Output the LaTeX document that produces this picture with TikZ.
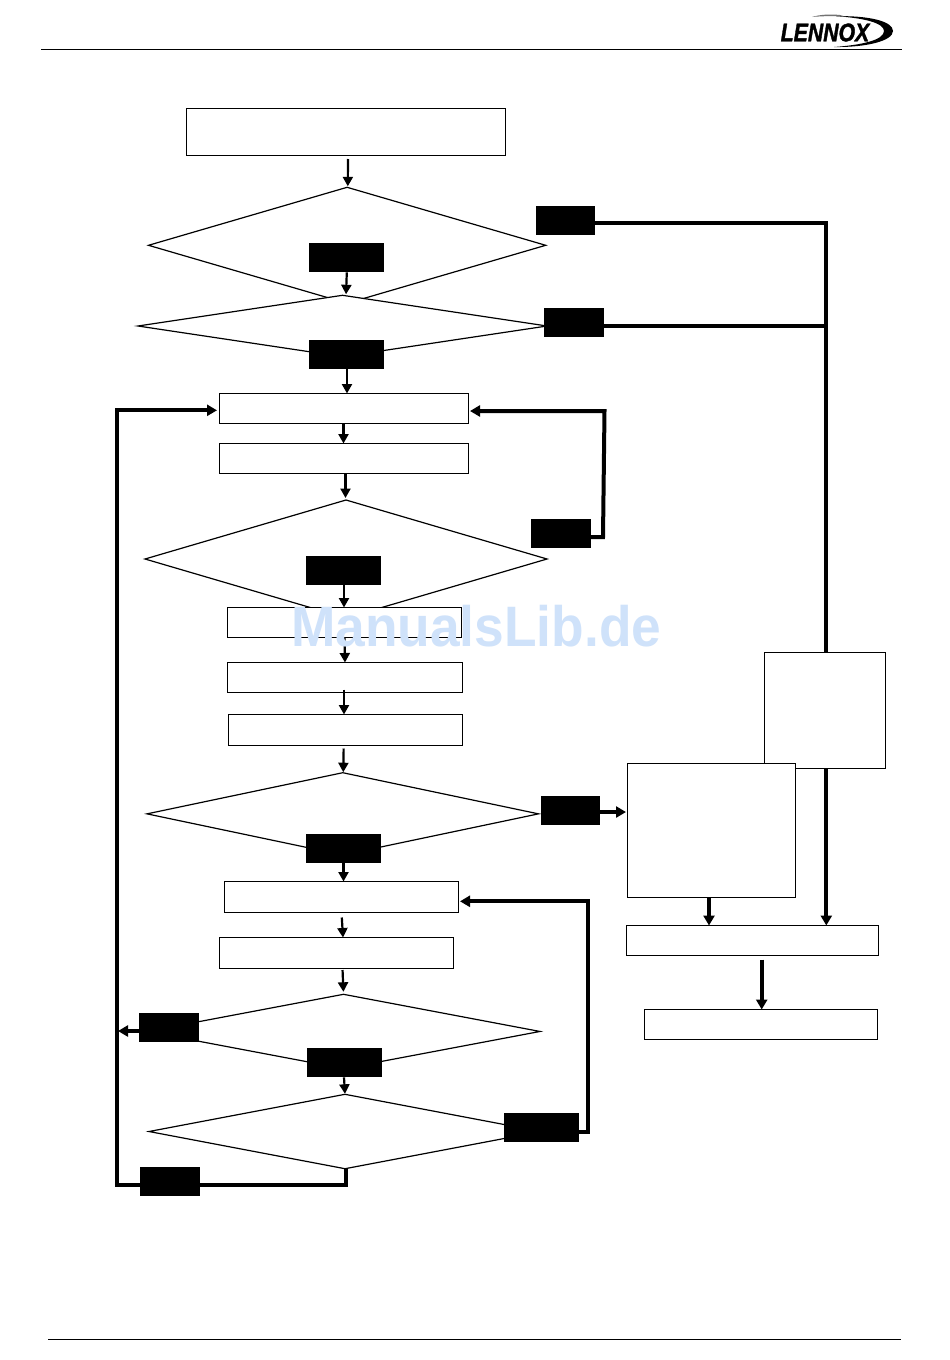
\documentclass[tikz,border=0pt]{standalone}
\usepackage{fontspec}
\setmainfont{Liberation Sans}
\newfontfamily\logofont[BoldItalicFeatures={FakeBold=1.6}]{Liberation Sans}
\usetikzlibrary{shapes.geometric,arrows.meta}
\definecolor{markblue}{HTML}{CFE2FA}
\tikzset{
  flowbox/.style={draw=black,fill=white,line width=1.2pt,rectangle,inner sep=0pt,outer sep=0pt},
  flowdiamond/.style={draw=black,fill=white,line width=1.2pt,diamond,inner sep=0pt,outer sep=0pt},
  tagbox/.style={draw=none,fill=black,rectangle,inner sep=0pt,outer sep=0pt},
  thinarrow/.style={draw=black,line width=2.2pt,-{Triangle[length=9.5pt,width=10pt]}},
  thickarrow/.style={draw=black,line width=4pt,line join=miter,-{Triangle[length=10pt,width=11pt]}},
  thickline/.style={draw=black,line width=4pt,line join=miter},
  rulefine/.style={draw=black,line width=1.1pt}
}
% name, x1, y1, x2, y2, style
\newcommand{\placebox}[6]{%
  \node[#6,minimum width={(#4-#2)*1pt},minimum height={(#5-#3)*1pt}] (#1) at ({(#2+#4)/2},{(#3+#5)/2}) {};}
\begin{document}
\begin{tikzpicture}[x=1pt,y=-1pt]
\useasboundingbox (0,0) rectangle (950,1360);
\fill[white] (0,0) rectangle (950,1360);
% header and footer rules
\coordinate (hl) at (41,49.5); \coordinate (hr) at (902,49.5);
\coordinate (fl) at (48,1339.5); \coordinate (fr) at (901,1339.5);
\draw[rulefine] (hl) -- (hr);
\draw[rulefine] (fl) -- (fr);
% logo
\node[inner sep=0pt,anchor=center,font=\logofont\fontsize{25}{25}\selectfont\bfseries\itshape] (logo) at (825,32.5) {\scalebox{0.85}[1.02]{LENNOX}};
\fill[black] (836,16.2) .. controls (868,15.5) and (893,21) .. (893,31)
  .. controls (893,41) and (866,47.5) .. (834,47)
  .. controls (862,45) and (884,40) .. (884,31)
  .. controls (884,23) and (864,18) .. (836,16.2) -- cycle;
\fill[black!55] (812,17) .. controls (820,14.5) and (830,14) .. (840,15) -- (846,16.8) .. controls (835,15.8) and (822,16) .. (812,17) -- cycle;
% rectangles
\placebox{B0}{186.5}{108.5}{505.5}{155.5}{flowbox}
\placebox{D1}{148.5}{187.3}{545.7}{303.3}{flowdiamond}
\placebox{D2}{138}{295.3}{547}{356.7}{flowdiamond}
\placebox{B1}{219.5}{393.5}{468.5}{423.5}{flowbox}
\placebox{B2}{219.5}{443.5}{468.5}{473.5}{flowbox}
\placebox{D3}{145}{500}{547}{618}{flowdiamond}
\placebox{B3}{227.5}{607.5}{461.5}{637.5}{flowbox}
\placebox{B4}{227.5}{662.5}{462.5}{692.5}{flowbox}
\placebox{B5}{228.5}{714.5}{462.5}{745.5}{flowbox}
\placebox{D4}{147}{772.7}{538.5}{855}{flowdiamond}
\placebox{B6}{224.5}{881.5}{458.5}{912.5}{flowbox}
\placebox{B7}{219.5}{937.5}{453.5}{968.5}{flowbox}
\placebox{D5}{147}{994.3}{540}{1068.6}{flowdiamond}
\placebox{D6}{149}{1094.3}{541}{1168.7}{flowdiamond}
\placebox{R1}{764.5}{652.5}{885.5}{768.5}{flowbox}
\placebox{R2}{627.5}{763.5}{795.5}{897.5}{flowbox}
\placebox{R3}{626.5}{925.5}{878.5}{955.5}{flowbox}
\placebox{R4}{644.5}{1009.5}{877.5}{1039.5}{flowbox}
% black tags
\placebox{Y1}{535.5}{205.5}{595}{234.5}{tagbox}
\placebox{N1}{308.5}{242.7}{383.5}{272.3}{tagbox}
\placebox{Y2}{544}{308}{604}{337}{tagbox}
\placebox{N2}{308.5}{340}{383.5}{369.3}{tagbox}
\placebox{Y3}{530.5}{518.5}{590.5}{547.5}{tagbox}
\placebox{N3}{306}{556}{381}{585}{tagbox}
\placebox{Y4}{540.5}{795.5}{600}{824.5}{tagbox}
\placebox{N4}{306}{834}{381}{863}{tagbox}
\placebox{Y5}{139}{1013.3}{199}{1042.3}{tagbox}
\placebox{N5}{307}{1048.3}{382}{1077.3}{tagbox}
\placebox{N6}{504}{1113}{579}{1142}{tagbox}
\placebox{Y6}{140}{1166.7}{200}{1196}{tagbox}
% thin vertical arrows
\draw[thinarrow,shorten <=3.5pt,shorten >=1pt] ([xshift=2pt]B0.south) -- ([xshift=0.7pt]D1.north);
\draw[thinarrow,shorten >=1pt] ([xshift=0.8pt]N1.south) -- ([xshift=3.5pt]D2.north);
\draw[thinarrow] ([xshift=1pt]N2.south) -- ([xshift=3pt]B1.north);
\draw[thinarrow] ([xshift=-0.5pt]B1.south) -- ([xshift=-0.5pt]B2.north);
\draw[thinarrow,shorten >=2pt] ([xshift=1.5pt]B2.south) -- ([xshift=-0.5pt]D3.north);
\draw[thinarrow] ([xshift=0.5pt]N3.south) -- ([xshift=-0.5pt]B3.north);
\draw[thinarrow] (B3.south) -- (B4.north);
\draw[thinarrow,shorten <=-3pt] ([xshift=-1pt]B4.south) -- ([xshift=-1.5pt]B5.north);
\draw[thinarrow,shorten <=3pt,shorten >=0.5pt] ([xshift=-1.8pt]B5.south) -- ([xshift=0.5pt]D4.north);
\draw[thinarrow] (N4.south) -- ([xshift=2pt]B6.north);
\draw[thinarrow,shorten <=5pt] (B6.south) -- ([xshift=6.5pt]B7.north);
\draw[thinarrow,shorten <=1.5pt,shorten >=2.5pt] ([xshift=6pt]B7.south) -- (D5.north);
\draw[thinarrow,shorten >=0.5pt] ([xshift=-0.5pt]N5.south) -- (D6.north);
% thick connectors
\coordinate (jtop) at (826.3,222.7);
\draw[thickline] (Y1.east |- jtop) -- (jtop) -- (jtop |- R1.north);
\coordinate (jmid) at (826.3,325.7);
\draw[thickline] (Y2.east |- jmid) -- (jmid);
\draw[thickarrow] (jtop |- R1.south) -- (jtop |- R3.north);
\draw[thickarrow] (R2.south -| 709,0) -- (R3.north -| 709,0);
\coordinate (r3out) at (761.7,959.5);
\draw[thickarrow] (r3out) -- (r3out |- R4.north);
\coordinate (y3a) at (603,537);
\coordinate (y3b) at (604.5,411);
\draw[thickarrow,shorten >=1.5pt] (Y3.east |- y3a) -- (y3a) -- (y3b) -- (B1.east |- y3b);
\coordinate (lb) at (116.7,1184.7);
\coordinate (lt) at (116.7,410.3);
\coordinate (lr) at (346,1184.7);
\draw[thickarrow,shorten >=2.5pt] (D6.south -| lr) -- (lr) -- (lb) -- (lt) -- (B1.west |- lt);
\coordinate (y5t) at (118,1031);
\draw[thickarrow,line width=3.4pt] (Y5.west |- y5t) -- (y5t);
\coordinate (n6a) at (588.3,1132);
\coordinate (n6b) at (588.3,901.3);
\draw[thickarrow,shorten >=1.5pt] (N6.east |- n6a) -- (n6a) -- (n6b) -- (B6.east |- n6b);
\coordinate (y4t) at (627,812);
\draw[thickarrow,shorten >=1.5pt] (Y4.east |- y4t) -- (R2.west |- y4t);
% watermark
\node[inner sep=0pt,anchor=base west,text=markblue,font=\fontsize{57}{60}\selectfont\bfseries] (wm) at (291,646) {\scalebox{0.935}[1]{ManualsLib.de}};
\end{tikzpicture}
\end{document}
